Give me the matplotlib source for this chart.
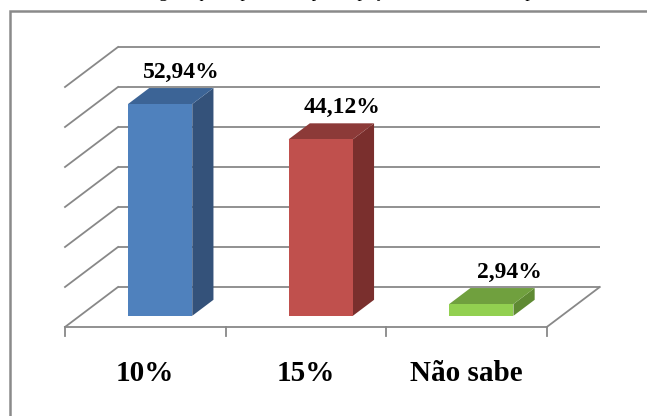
import matplotlib
matplotlib.use("Agg")
import matplotlib.pyplot as plt
from matplotlib.patches import Polygon, Rectangle

plt.rcParams['font.family'] = ['Liberation Serif', 'DejaVu Serif']

# data
categories = ['10%', '15%', 'Não sabe']
values = [52.94, 44.12, 2.94]
value_labels = ['52,94%', '44,12%', '2,94%']
grid_values = [0, 10, 20, 30, 40, 50, 60]

# face colours: front, top, side
front_colors = ['#4F81BD', '#C0504D', '#92D050']
top_colors = ['#3C6496', '#8C3A38', '#70A03E']
side_colors = ['#34527A', '#7A2F2D', '#5F8A33']

grid_color = '#888888'

# oblique "3D" projection: depth 0 = front, 1 = back wall
DX, DY = 0.33, 10.0


def proj(x, y, z):
    return x + z * DX, y + z * DY


fig = plt.figure(figsize=(6.47, 4.16), dpi=100)
ax = fig.add_axes([0, 0, 1, 1])
ax.set_xlim(-65 / 160.6, (647 - 65) / 160.6)
ax.set_ylim((327 - 416) / 4.0, 327 / 4.0)
ax.axis('off')

n = len(categories)

# back wall gridlines + left wall diagonals
for v in grid_values:
    x0, y0 = proj(0, v, 1)
    x1, y1 = proj(n, v, 1)
    ax.plot([x0, x1], [y0, y1], color=grid_color, lw=1.3, zorder=1,
            solid_capstyle='butt')
    ax.plot([0, x0], [v, y0], color=grid_color, lw=1.3, zorder=1)

# floor: right edge and front edge with ticks
xr, yr = proj(n, 0, 1)
ax.plot([n, xr], [0, yr], color=grid_color, lw=1.3, zorder=1)
ax.plot([0, n], [0, 0], color=grid_color, lw=1.3, zorder=1)
for i in range(n + 1):
    ax.plot([i, i], [0, -2.2], color=grid_color, lw=1.3, zorder=1)

# bars
z1, z2 = 0.28, 0.68
half = 0.2
for i, v in enumerate(values):
    c = i + 0.5
    xl, xr_ = c - half, c + half
    front = [proj(xl, 0, z1), proj(xr_, 0, z1), proj(xr_, v, z1), proj(xl, v, z1)]
    top = [proj(xl, v, z1), proj(xr_, v, z1), proj(xr_, v, z2), proj(xl, v, z2)]
    side = [proj(xr_, 0, z1), proj(xr_, 0, z2), proj(xr_, v, z2), proj(xr_, v, z1)]
    ax.add_patch(Polygon(side, closed=True, fc=side_colors[i], ec='none', zorder=3))
    ax.add_patch(Polygon(top, closed=True, fc=top_colors[i], ec='none', zorder=3))
    ax.add_patch(Polygon(front, closed=True, fc=front_colors[i], ec='none', zorder=4))

    lx, ly = proj(c, v, z2)
    ax.text(lx + (0.04 if v < 10 else 0), ly + 2.6, value_labels[i], ha='center',
            va='baseline', fontsize=17, fontweight='bold', zorder=5)

    ax.text(c, -13.4, categories[i], ha='center', va='baseline',
            fontsize=21, fontweight='bold')

# chart frame (runs past the right and bottom edges of the picture)
fig.patches.append(Rectangle((10 / 647, -0.1), 1.0, (416 - 11) / 416 + 0.1,
                             transform=fig.transFigure, fill=False,
                             ec='#8a8a8a', lw=1.8))

# caption above, mostly cut off by the crop
fig.text(0.51, (416 + 3.5) / 416, 'Porcentagem que esperam de participação nos lucros da empresa',
         ha='center', va='baseline', fontsize=13)

fig.savefig('out.png', dpi=100)
